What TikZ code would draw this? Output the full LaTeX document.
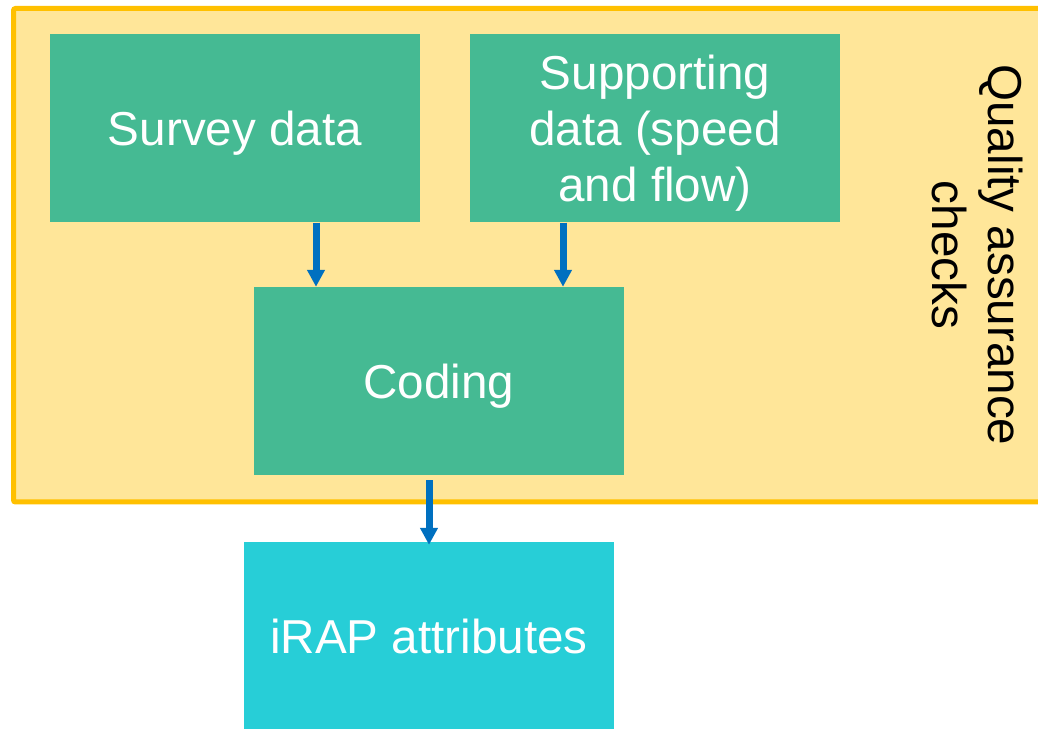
\documentclass[tikz,border=0pt]{standalone}
\usepackage{fontspec}
\setmainfont{Liberation Sans}
\usepackage{xcolor}
\usetikzlibrary{positioning,arrows.meta,calc}

\definecolor{qafill}{HTML}{FFE699}
\definecolor{qaline}{HTML}{FFC000}
\definecolor{stepgreen}{HTML}{45BA93}
\definecolor{stepcyan}{HTML}{27CED7}
\definecolor{arrblue}{HTML}{0070C0}

\begin{document}
\begin{tikzpicture}[
		x=1pt, y=1pt,
		font=\fontsize{47.6}{56}\selectfont,
		box/.style={inner sep=0pt, align=center, text=white, text depth=0pt,
				minimum width=370pt, minimum height=188pt},
		src/.style={box, fill=stepgreen},
		res/.style={box, fill=stepcyan},
		arr/.style={-{Triangle[width=17pt, length=17pt]}, line width=7pt, arrblue}
		]
		\useasboundingbox (0,0) rectangle (1038,728);
		% quality assurance frame, runs off the right edge
		\draw[qaline, fill=qafill, line width=5pt, rounded corners=2pt]
		(13.5,719.5) rectangle (1070,226);
		\node[rotate=-90, align=center] (qa) at (977,473)
		{Quality assurance\\checks};
		\node[src] (survey) at (235,599.5) {Survey data};
		\node[src] (support) at (655,599.5) {Supporting\\data (speed\\and flow)};
		\node[src] (coding) at (439,347) {Coding};
		\node[res] (irap) at (429,92) {iRAP attributes};
		\draw[arr] ([xshift=81pt]survey.south) -- ([xshift=81pt]survey.south |- coding.north);
		\draw[arr] ([xshift=-92pt]support.south) -- ([xshift=-92pt]support.south |- coding.north);
		\draw[arr] ([yshift=-5pt]coding.south -| irap.north) -- ([yshift=-3pt]irap.north);
	\end{tikzpicture}
\end{document}
